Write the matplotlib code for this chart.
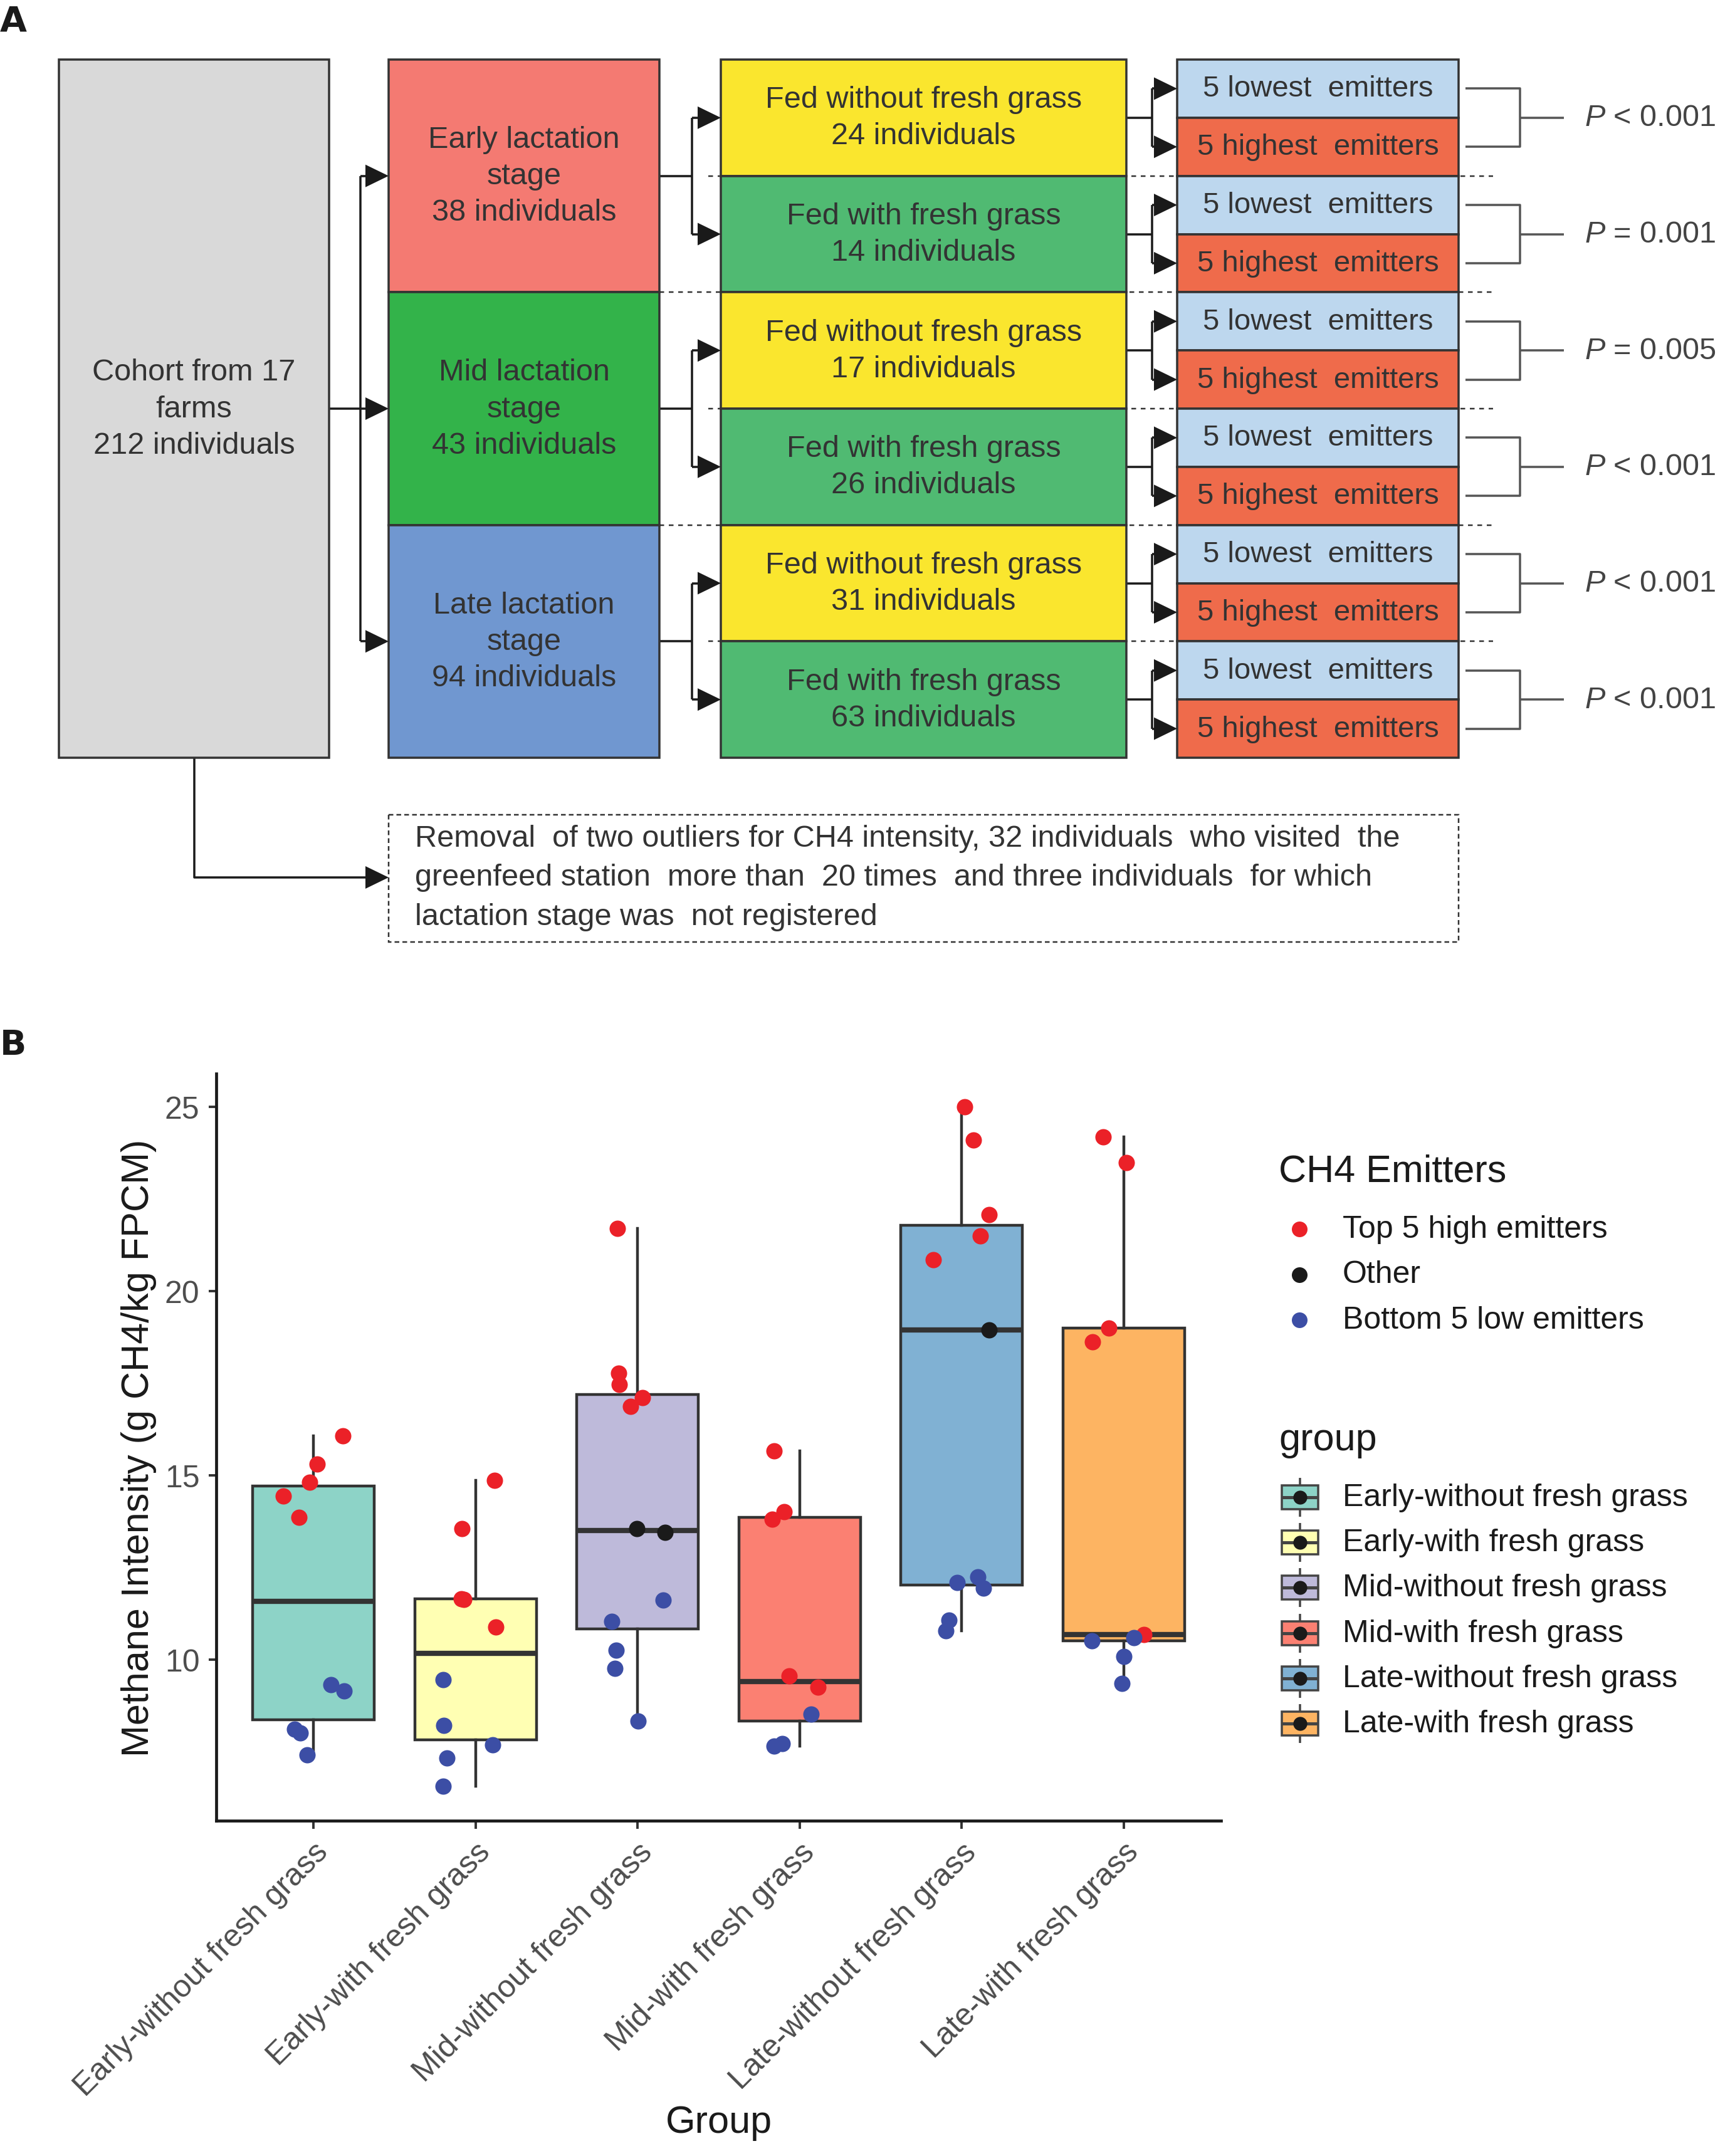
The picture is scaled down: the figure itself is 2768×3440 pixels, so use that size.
import numpy as np
import matplotlib.pyplot as plt
from matplotlib.patches import Rectangle, Polygon

plt.rcParams['font.family'] = ['Liberation Sans', 'DejaVu Sans']
plt.rcParams['mathtext.fontset'] = 'custom'
plt.rcParams['mathtext.it'] = 'Liberation Sans:italic'
plt.rcParams['mathtext.rm'] = 'Liberation Sans'

W, H = 2768, 3441
DPI = 200
PX = 72 / DPI  # points per pixel

# ---- panel A: flow diagram data ----
cohort_n = 212
n_farms = 17
stage_names = ['Early', 'Mid', 'Late']
stage_n = [38, 43, 94]
feed_names = ['Fed without fresh grass', 'Fed with fresh grass'] * 3
feed_n = [24, 14, 17, 26, 31, 63]
p_labels = ['< 0.001', '= 0.001', '= 0.005', '< 0.001', '< 0.001', '< 0.001']
note_text = ('Removal  of two outliers for CH4 intensity, 32 individuals  who visited  the\n'
             'greenfeed station  more than  20 times  and three individuals  for which\n'
             'lactation stage was  not registered')

# ---- panel B: methane intensity per group ----
groups = ['Early-without fresh grass', 'Early-with fresh grass', 'Mid-without fresh grass',
          'Mid-with fresh grass', 'Late-without fresh grass', 'Late-with fresh grass']
box_colors = ['#8DD3C7', '#FFFFB3', '#BEBADA', '#FB8072', '#80B1D3', '#FDB462']

high_vals = [[14.44, 13.85, 14.80, 15.30, 16.06],
             [13.55, 11.65, 11.63, 14.86, 10.87],
             [21.70, 17.77, 17.46, 17.11, 16.86],
             [15.65, 13.80, 14.00, 9.55, 9.24],
             [25.00, 24.10, 22.07, 21.49, 20.85],
             [24.18, 23.48, 18.99, 18.61, 10.68]]
high_dx = [[-0.187, -0.090, -0.024, 0.024, 0.180],
           [-0.083, -0.087, -0.073, 0.118, 0.125],
           [-0.125, -0.118, -0.114, 0.031, -0.045],
           [-0.156, -0.170, -0.094, -0.066, 0.114],
           [0.020, 0.072, 0.168, 0.114, -0.176],
           [-0.129, 0.015, -0.092, -0.193, 0.126]]
other_vals = [[], [], [13.54, 13.44], [], [18.94], []]
other_dx = [[], [], [-0.003, 0.170], [], [0.168], []]
low_vals = [[9.31, 9.14, 8.10, 8.01, 7.41],
            [9.45, 8.20, 7.32, 6.56, 7.68],
            [11.61, 11.03, 10.24, 9.75, 8.32],
            [8.52, 7.65, 7.72],
            [12.08, 12.23, 11.94, 11.06, 10.77],
            [10.51, 10.58, 10.08, 9.34]]
low_dx = [[0.107, 0.190, -0.118, -0.083, -0.038],
          [-0.200, -0.197, -0.176, -0.200, 0.107],
          [0.156, -0.159, -0.132, -0.139, 0.003],
          [0.069, -0.159, -0.107],
          [-0.030, 0.100, 0.134, -0.077, -0.097],
          [-0.198, 0.062, 0.002, -0.012]]

emitter_labels = ['Top 5 high emitters', 'Other', 'Bottom 5 low emitters']
emitter_colors = ['#EB2128', '#1A1A1A', '#3C4EA5']

fig = plt.figure(figsize=(W / DPI, H / DPI), dpi=DPI)

# overlay in pixel coordinates for the diagram, panel letters and legends
ax0 = fig.add_axes([0, 0, 1, 1], zorder=0)
ax0.set_xlim(0, W)
ax0.set_ylim(H, 0)
ax0.axis('off')

TXT = '#333333'
EDGE = '#333333'
FS_A = 17.5


def box(x0, y0, w, h, fc, txt=None, fs=FS_A, ls='-', lw=3.5):
    ax0.add_patch(Rectangle((x0, y0), w, h, fc=fc, ec=EDGE, lw=lw * PX, ls=ls, zorder=2))
    if txt:
        ax0.text(x0 + w / 2, y0 + h / 2, txt, ha='center', va='center', fontsize=fs,
                 color=TXT, linespacing=1.38, zorder=3)


def line(xs, ys, color='#1A1A1A', lw=3.5, ls='-', z=1.5):
    ax0.plot(xs, ys, color=color, lw=lw * PX, ls=ls, zorder=z, solid_capstyle='butt')


def head(x_tip, y, length=37, half=18):
    ax0.add_patch(Polygon([[x_tip, y], [x_tip - length, y - half], [x_tip - length, y + half]],
                          closed=True, fc='#1A1A1A', ec='none', zorder=4))


ax0.text(0, 50, 'A', fontsize=20, fontweight='heavy', family='DejaVu Sans', color='#1A1A1A')
ax0.text(0, 1683, 'B', fontsize=20, fontweight='heavy', family='DejaVu Sans', color='#1A1A1A')

# geometry of the diagram
top, bot = 96, 1210
cx0, cx1 = 94, 525
sx0, sx1 = 620, 1052
fx0, fx1 = 1150, 1797
ex0, ex1 = 1878, 2327
stage_h = (bot - top) / 3
feed_h = (bot - top) / 6
stage_colors = ['#F47A72', '#33B34A', '#7097D0']
feed_colors = ['#FAE62E', '#50BA72'] * 3

box(cx0, top, cx1 - cx0, bot - top, '#D9D9D9',
    f'Cohort from {n_farms}\nfarms\n{cohort_n} individuals')

mid_y = (top + bot) / 2
line([cx1, 575], [mid_y, mid_y])
stage_cy = [top + stage_h * (i + 0.5) for i in range(3)]
line([575, 575], [stage_cy[0], stage_cy[-1]])

for i, (name, n) in enumerate(zip(stage_names, stage_n)):
    y0 = top + i * stage_h
    box(sx0, y0, sx1 - sx0, stage_h, stage_colors[i], f'{name} lactation\nstage\n{n} individuals')
    line([575, sx0 - 30], [stage_cy[i]] * 2)
    head(sx0, stage_cy[i])
    # connector stage -> feeds
    c1 = top + feed_h * (2 * i + 0.5)
    c2 = top + feed_h * (2 * i + 1.5)
    line([sx1, 1104], [stage_cy[i]] * 2)
    line([1104, 1104], [c1, c2])
    for c in (c1, c2):
        line([1104, fx0 - 30], [c, c])
        head(fx0, c)
    if i > 0:
        line([sx1, 2382], [y0, y0], color=EDGE, lw=2.5, ls=(0, (3, 3)), z=1)
    line([1130, 2382], [y0 + stage_h / 2] * 2, color=EDGE, lw=2.5, ls=(0, (3, 3)), z=1)

for j, (name, n) in enumerate(zip(feed_names, feed_n)):
    y0 = top + j * feed_h
    box(fx0, y0, fx1 - fx0, feed_h, feed_colors[j], f'{name}\n{n} individuals')
    cy = y0 + feed_h / 2
    lo_c = y0 + feed_h / 4
    hi_c = y0 + 3 * feed_h / 4
    box(ex0, y0, ex1 - ex0, feed_h / 2, '#BDD7EE', '5 lowest  emitters', fs=17)
    box(ex0, y0 + feed_h / 2, ex1 - ex0, feed_h / 2, '#EF6B4B', '5 highest  emitters', fs=17)
    line([fx1, 1838], [cy, cy])
    line([1838, 1838], [lo_c, hi_c])
    for c in (lo_c, hi_c):
        line([1838, ex0 - 30], [c, c])
        head(ex0, c)
    # bracket with p-value
    line([2338, 2425, 2425, 2338], [lo_c, lo_c, hi_c, hi_c], color='#555555', lw=3.5)
    line([2425, 2495], [cy, cy], color='#555555', lw=3.5)
    ax0.text(2528, cy, r'$P$' + f' {p_labels[j]}', ha='left', va='center',
             fontsize=17.5, color='#444444')

# exclusion note
line([310, 310, 590], [bot, 1401, 1401])
head(620, 1401)
ax0.add_patch(Rectangle((620, 1301), 2327 - 620, 203, fc='white', ec=EDGE,
                        lw=2.5 * PX, ls=(0, (3, 2)), zorder=2))
ax0.text(662, 1401, note_text, ha='left', va='center', fontsize=17.5, color=TXT,
         linespacing=1.5, zorder=3)

# ---- panel B ----
axB = fig.add_axes([345 / W, 1 - 2906 / H, (1948 - 345) / W, (2906 - 1714) / H], zorder=1)
axB.patch.set_alpha(0)
pos = np.arange(1, len(groups) + 1)
all_vals = [h + o + l for h, o, l in zip(high_vals, other_vals, low_vals)]

bp = axB.boxplot(all_vals, positions=pos, widths=0.75, patch_artist=True, whis=1.5,
                 showcaps=False, showfliers=False,
                 boxprops=dict(edgecolor='#333333', linewidth=1.6),
                 whiskerprops=dict(color='#333333', linewidth=1.6),
                 medianprops=dict(color='#333333', linewidth=3.0))
for patch, col in zip(bp['boxes'], box_colors):
    patch.set_facecolor(col)
    patch.set_zorder(2)

for k, p in enumerate(pos):
    for vals, dx, col in ((high_vals[k], high_dx[k], emitter_colors[0]),
                          (other_vals[k], other_dx[k], emitter_colors[1]),
                          (low_vals[k], low_dx[k], emitter_colors[2])):
        if vals:
            axB.scatter(p + np.array(dx), vals, s=88, color=col, lw=0, zorder=3)

axB.set_xlim(0.4, 6.6)
axB.set_ylim(5.62, 25.9)
axB.set_yticks([10, 15, 20, 25])
axB.set_xticks(pos)
axB.set_xticklabels(groups, rotation=45, ha='right', va='top', rotation_mode='anchor')
for s in ('top', 'right'):
    axB.spines[s].set_visible(False)
for s in ('left', 'bottom'):
    axB.spines[s].set_linewidth(1.7)
    axB.spines[s].set_color('#1A1A1A')
axB.tick_params(length=4.5, width=1.4, color='#333333', labelsize=18, labelcolor='#4D4D4D', pad=5)
axB.set_ylabel('Methane Intensity (g CH4/kg FPCM)', fontsize=22, color='#1A1A1A')
axB.set_xlabel('Group', fontsize=22, color='#1A1A1A')
axB.yaxis.set_label_coords(-0.077, 0.5)
axB.xaxis.set_label_coords(0.5, -0.404)
axB.xaxis.label.set_va('center')
axB.yaxis.label.set_va('center')

# legends drawn by hand to match the ggplot layout
ax0.text(2040, 1886, 'CH4 Emitters', fontsize=22, color='#1A1A1A', va='baseline')
for r, (lab, col) in enumerate(zip(emitter_labels, emitter_colors)):
    yy = 1962 + r * 72.5
    ax0.plot([2073], [yy], 'o', ms=9, color=col, mec='none')
    ax0.text(2142, yy, lab, fontsize=18, color='#1A1A1A', va='center')

ax0.text(2040, 2314, 'group', fontsize=22, color='#1A1A1A', va='baseline')
for r, (lab, col) in enumerate(zip(groups, box_colors)):
    yy = 2390 + r * 72.2
    line([2074, 2074], [yy - 31, yy + 31], color='#444444', lw=3.5, z=2)
    ax0.add_patch(Rectangle((2045, yy - 19), 58, 38, fc=col, ec='#444444', lw=3.5 * PX, zorder=3))
    line([2045, 2103], [yy, yy], color='#444444', lw=5, z=4)
    ax0.plot([2074], [yy], 'o', ms=8, color='#1A1A1A', mec='none', zorder=5)
    ax0.text(2142, yy, lab, fontsize=18, color='#1A1A1A', va='center')

fig.savefig('out.png', dpi=DPI)
